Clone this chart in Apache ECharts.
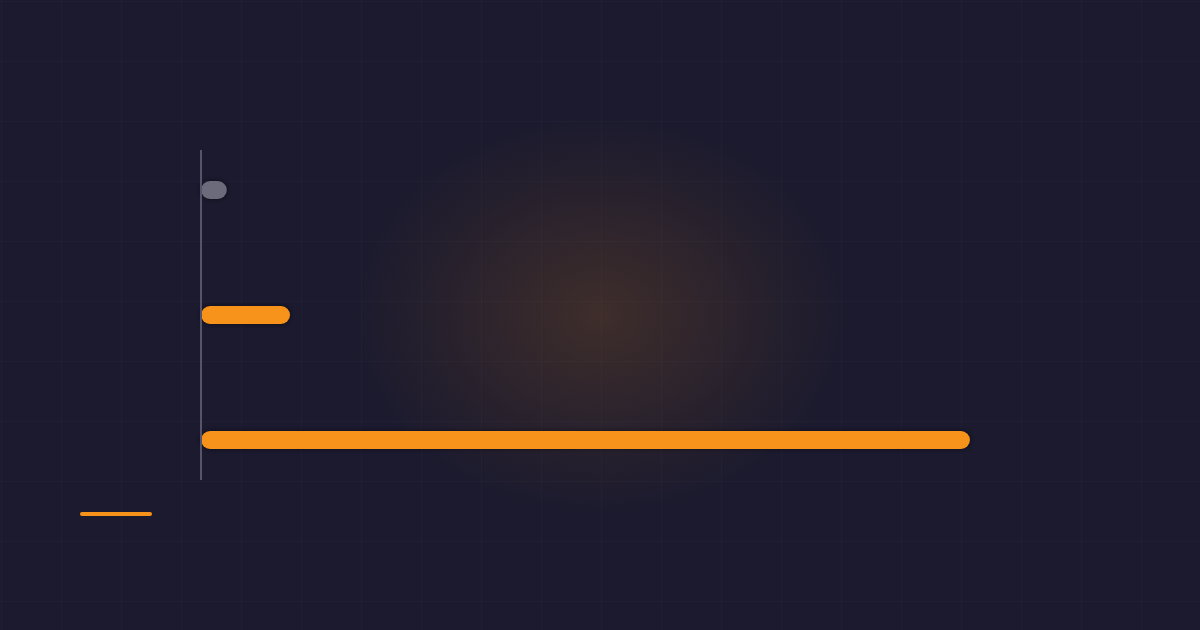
<!DOCTYPE html>
<html>
<head>
<meta charset="utf-8">
<script src="https://cdn.jsdelivr.net/npm/echarts@6/dist/echarts.min.js"></script>
<style>
html,body{margin:0;padding:0;background:#1b1a2e;}
#chart{
  width:1200px;height:630px;
  background-color:#1b1a2e;
  background-image:
    radial-gradient(ellipse 250px 200px at 600px 315px, rgba(247,147,26,0.16) 0%, rgba(247,147,26,0.08) 50%, rgba(247,147,26,0) 100%),
    linear-gradient(rgba(255,255,255,0.018) 1px, transparent 1px),
    linear-gradient(90deg, rgba(255,255,255,0.018) 1px, transparent 1px);
  background-size:100% 100%, 60px 60px, 60px 60px;
  background-position:0 0, 0 1px, 1px 0;
}
</style>
</head>
<body>
<div id="chart"></div>
<script>
const categories = ['A', 'B', 'C'];
const values = [2.9, 10, 86.4];
const barColors = ['#6b6b7c', '#f7931a', '#f7931a'];

const chart = echarts.init(document.getElementById('chart'), null, {renderer:'canvas'});
chart.setOption({
  backgroundColor: 'transparent',
  animation: false,
  grid: {left: 201, top: 127.5, width: 890, height: 375, containLabel: false},
  xAxis: {
    type: 'value', min: 0, max: 100,
    show: false
  },
  yAxis: {
    type: 'category', data: categories, inverse: true,
    axisLine: {show: false}, axisTick: {show: false}, axisLabel: {show: false},
    splitLine: {show: false}
  },
  series: [{
    type: 'bar',
    barWidth: 18,
    data: values.map((v, i) => ({
      value: v,
      itemStyle: {color: barColors[i]}
    })),
    itemStyle: {
      borderRadius: 9,
      shadowColor: 'rgba(0,0,0,0.5)',
      shadowBlur: 4,
      shadowOffsetY: 0
    }
  }],
  graphic: [
    {type: 'line', shape: {x1: 201, y1: 150, x2: 201, y2: 480},
     style: {stroke: '#55546a', lineWidth: 2}, z: 10},
    {type: 'rect', shape: {x: 80, y: 512, width: 72, height: 4, r: 2},
     style: {fill: '#f7931a'}}
  ]
});
</script>
</body>
</html>
